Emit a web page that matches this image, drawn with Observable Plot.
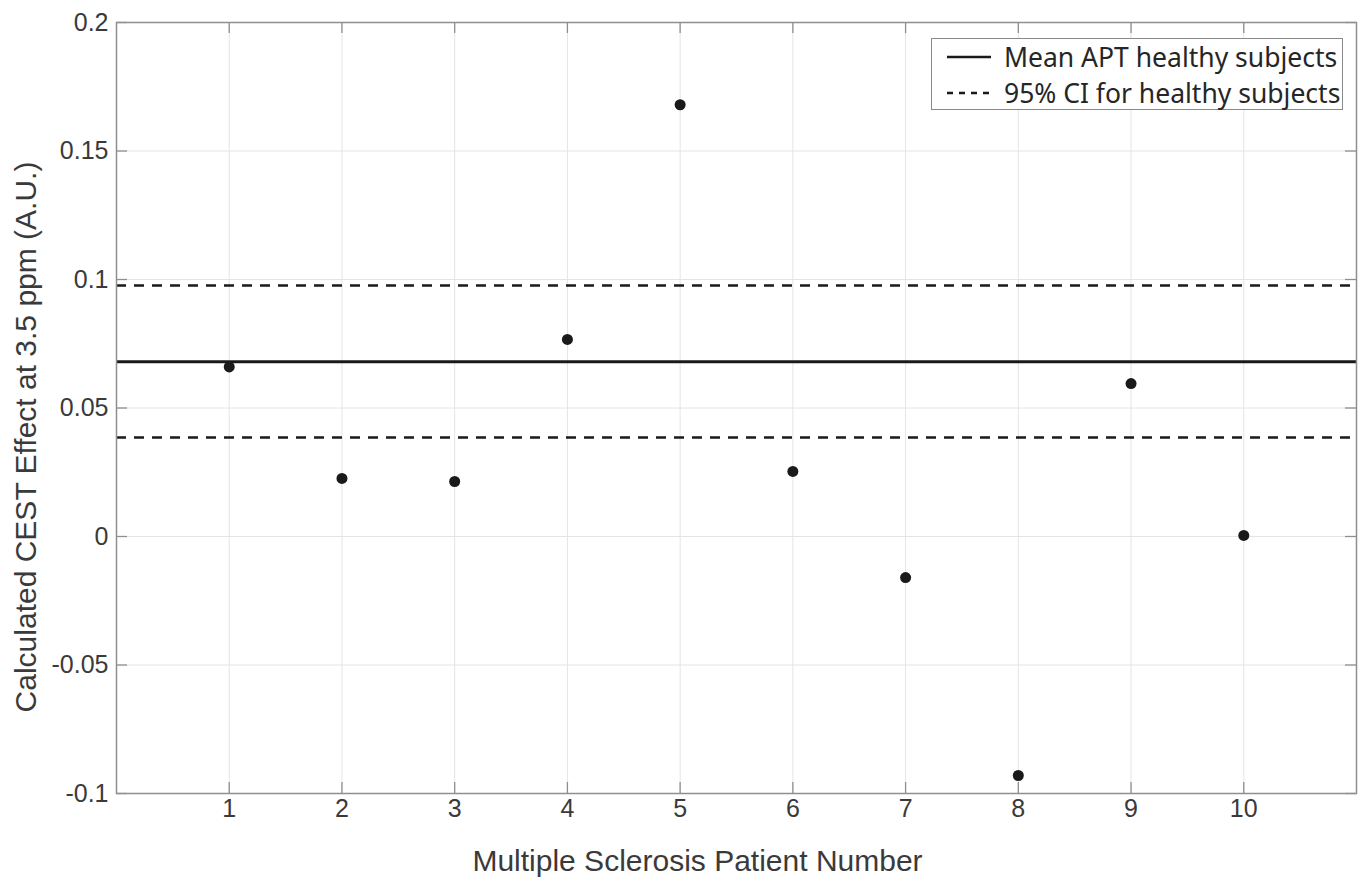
<!DOCTYPE html>
<html><head><meta charset="utf-8">
<script src="https://cdn.jsdelivr.net/npm/d3@7"></script>
<script src="https://cdn.jsdelivr.net/npm/@observablehq/plot@0.6"></script>
<style>
body{margin:0;background:#fff;}
#wrap{position:relative;width:1363px;height:880px;}
#legend{position:absolute;left:931px;top:38px;width:412px;height:72px;box-sizing:border-box;border:1px solid #8a8a8a;background:#fff;font-family:"Noto Sans","Open Sans",sans-serif;font-size:26.5px;color:#262626;padding:0 0 0 15px;}
#legend .row{display:flex;align-items:center;height:36px;white-space:nowrap;}
#legend svg{margin-right:13px;flex:none;}
</style>
</head><body>
<div id="wrap"><div id="chart"></div>
<div id="legend"></div></div>
<script>
const patients = [1, 2, 3, 4, 5, 6, 7, 8, 9, 10];
const cestEffect = [0.066, 0.0226, 0.0214, 0.0767, 0.168, 0.0253, -0.016, -0.093, 0.0595, 0.0004];
const meanAPT = [0.068];
const ciBounds = [0.0385, 0.0977];
const xTicks = [1, 2, 3, 4, 5, 6, 7, 8, 9, 10];
const yTicks = [-0.1, -0.05, 0, 0.05, 0.1, 0.15, 0.2];
const yTickLabels = ["-0.1", "-0.05", "0", "0.05", "0.1", "0.15", "0.2"];
const xLabel = "Multiple Sclerosis Patient Number";
const yLabel = "Calculated CEST Effect at 3.5 ppm (A.U.)";
const legendLabels = ["Mean APT healthy subjects", "95% CI for healthy subjects"];

const data = patients.map((p, i) => ({patient: p, value: cestEffect[i]}));
const W = 1363, H = 880, mL = 116, mR = 7, mT = 22, mB = 87;
const pw = W - mL - mR, ph = H - mT - mB, tk = 11;
const ink = "#1a1a1a", axisGray = "#8f8f8f", textGray = "#3a3a3a";

const chart = Plot.plot({
  width: W, height: H,
  marginLeft: mL, marginRight: mR, marginTop: mT, marginBottom: mB,
  style: {fontFamily: "Liberation Sans, Arial, sans-serif", fontSize: "25px", color: textGray, background: "#fff"},
  x: {domain: [0, 11]},
  y: {domain: [-0.1, 0.2]},
  marks: [
    Plot.gridX(xTicks, {stroke: "#e4e4e4", strokeOpacity: 1}),
    Plot.gridY(yTicks, {stroke: "#e4e4e4", strokeOpacity: 1}),
    Plot.ruleY(ciBounds, {stroke: ink, strokeWidth: 2.5, strokeDasharray: "10,8"}),
    Plot.ruleY(meanAPT, {stroke: ink, strokeWidth: 3}),
    Plot.dot(data, {x: "patient", y: "value", r: 5.5, fill: ink, stroke: "none"}),
    Plot.frame({stroke: axisGray, strokeWidth: 1.5}),
    Plot.tickX(xTicks, {x: d => d, stroke: axisGray, strokeWidth: 1.3, insetTop: ph - tk}),
    Plot.tickX(xTicks, {x: d => d, stroke: axisGray, strokeWidth: 1.3, insetBottom: ph - tk}),
    Plot.tickY(yTicks, {y: d => d, stroke: axisGray, strokeWidth: 1.3, insetRight: pw - tk}),
    Plot.tickY(yTicks, {y: d => d, stroke: axisGray, strokeWidth: 1.3, insetLeft: pw - tk}),
    Plot.axisX(xTicks, {anchor: "bottom", tickSize: 0, tickPadding: 6, fontSize: 25, label: null}),
    Plot.axisY(yTicks, {anchor: "left", tickSize: 0, tickPadding: 8, fontSize: 25, label: null,
      tickFormat: d => yTickLabels[yTicks.indexOf(d)]}),
    Plot.text([xLabel], {text: d => d, frameAnchor: "bottom", lineAnchor: "bottom", dy: 77, dx: -39,
      fontSize: 30, fill: textGray}),
    Plot.text([yLabel], {text: d => d, frameAnchor: "left", textAnchor: "middle", lineAnchor: "bottom",
      rotate: -90, dx: -81, dy: 29, fontSize: 30, fill: textGray})
  ]
});
document.getElementById("chart").appendChild(chart);

const legend = document.getElementById("legend");
legendLabels.forEach((lab, i) => {
  const row = document.createElement("div");
  row.className = "row";
  const dash = i === 0 ? "" : 'stroke-dasharray="6,6"';
  row.innerHTML = `<svg width="44" height="10"><line x1="0" y1="5" x2="44" y2="5" stroke="${ink}" stroke-width="2.6" ${dash}/></svg><span>${lab}</span>`;
  legend.appendChild(row);
});
</script>
</body></html>
